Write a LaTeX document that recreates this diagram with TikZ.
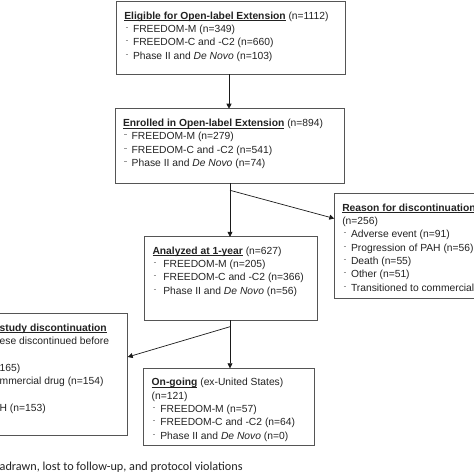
\documentclass[tikz,border=0pt]{standalone}
\usepackage{fontspec}
\setmainfont{Liberation Sans}
\newfontfamily\notefont{Carlito}
\usetikzlibrary{arrows.meta}
\definecolor{txtc}{HTML}{222222}
\definecolor{boxc}{HTML}{555555}
\definecolor{bulc}{HTML}{9A9A9A}
\definecolor{arrc}{HTML}{1A1A1A}
\newcommand{\ttl}[1]{\setbox0\hbox{\textbf{#1}}\rlap{\rule[-1.9pt]{\wd0}{0.75pt}}\box0\relax}
\newcommand{\itm}[2]{\hspace*{1.2pt}\makebox[#1][l]{\textcolor{bulc}{\rule[4.6pt]{2.4pt}{0.8pt}}}#2}
\newcommand{\tp}{\rule{0pt}{8pt}}
\begin{document}
\begin{tikzpicture}[x=1pt,y=1pt,
  box/.style={draw=boxc, line width=0.9pt, anchor=north west, inner sep=0pt, outer sep=0pt},
  txt/.style={anchor=north west, inner sep=0pt, outer sep=0pt, align=left, text=txtc, font=\fontsize{10.3pt}{13.33pt}\selectfont},
  arr/.style={draw=arrc, line width=0.7pt, -{Triangle[length=5pt,width=5pt]}},
  ln/.style={draw=arrc, line width=0.7pt}]
\useasboundingbox (0,0) rectangle (474,-474);
\clip (0,0) rectangle (474,-474);

% boxes
\node[box, minimum width=229pt, minimum height=72.6pt] (b1) at (116.3,-1.7) {};
\node[box, minimum width=228.7pt, minimum height=74.6pt] (b2) at (115.3,-108.7) {};
\node[box, minimum width=172.5pt, minimum height=83.2pt] (b3) at (144.7,-236.8) {};
\node[box, minimum width=170pt, minimum height=104.7pt] (b4) at (334.3,-193.3) {};
\node[box, minimum width=147.7pt, minimum height=121.3pt] (bL) at (-20,-313.7) {};
\node[box, minimum width=171pt, minimum height=76.7pt] (b5) at (143.7,-368.3) {};

% texts
\node[txt] (t1) at (124.3,-11.2) {\tp\ttl{Eligible for Open-label Extension} (n=1112)\\
  \itm{7.5pt}{FREEDOM-M (n=349)}\\
  \itm{7.5pt}{FREEDOM-C and -C2 (n=660)}\\
  \itm{7.5pt}{Phase II and \textit{De Novo} (n=103)}};
\node[txt] (t2) at (123,-118.5) {\tp\ttl{Enrolled in Open-label Extension} (n=894)\\
  \itm{7.5pt}{FREEDOM-M (n=279)}\\
  \itm{7.5pt}{FREEDOM-C and -C2 (n=541)}\\
  \itm{7.5pt}{Phase II and \textit{De Novo} (n=74)}};
\node[txt] (t3) at (152.5,-246.2) {\tp\ttl{Analyzed at 1-year} (n=627)\\
  \itm{9.6pt}{FREEDOM-M (n=205)}\\
  \itm{9.6pt}{FREEDOM-C and -C2 (n=366)}\\
  \itm{9.6pt}{Phase II and \textit{De Novo} (n=56)}};
\node[txt] (t4) at (342.3,-203.2) {\tp\ttl{Reason for discontinuation}\\
  (n=256)\\
  \itm{7.5pt}{Adverse event (n=91)}\\
  \itm{7.5pt}{Progression of PAH (n=56)}\\
  \itm{7.5pt}{Death (n=55)}\\
  \itm{7.5pt}{Other (n=51)}\\
  \itm{7.5pt}{Transitioned to commercial}};
\node[txt] (tL) at (-0.3,-323.2) {\tp\ttl{study discontinuation}\\
  ese discontinued before\\
  \strut\\
  165)\\
  mmercial drug (n=154)\\
  \strut\\
  H (n=153)};
\node[txt] (t5) at (151.7,-377.8) {\tp\ttl{On-going} (ex-United States)\\
  (n=121)\\
  \itm{7.4pt}{FREEDOM-M (n=57)}\\
  \itm{7.4pt}{FREEDOM-C and -C2 (n=64)}\\
  \itm{7.4pt}{Phase II and \textit{De Novo} (n=0)}};
\node[anchor=base west, inner sep=0pt, text=txtc, font=\notefont\fontsize{12.2pt}{14pt}\selectfont] (fn) at (-0.5,-470) {adrawn, lost to follow-up, and protocol violations};

% connectors
\coordinate (j1) at (229,-40);
\draw[arr] (b1.south -| j1) -- (b2.north -| j1);
\coordinate (j2) at (230,-190.3);
\draw[ln] (b2.south -| j2) -- (j2);
\draw[arr] (j2) -- (b3.north -| j2);
\draw[arr] (j2) -- ([yshift=-25.2pt]b4.north west);
\coordinate (j3) at (230,-326.7);
\draw[ln] (b3.south -| j3) -- (j3);
\draw[arr] (j3) -- (b5.north -| j3);
\draw[arr] (j3) -- ([yshift=-43.3pt]bL.north east);
\end{tikzpicture}
\end{document}
